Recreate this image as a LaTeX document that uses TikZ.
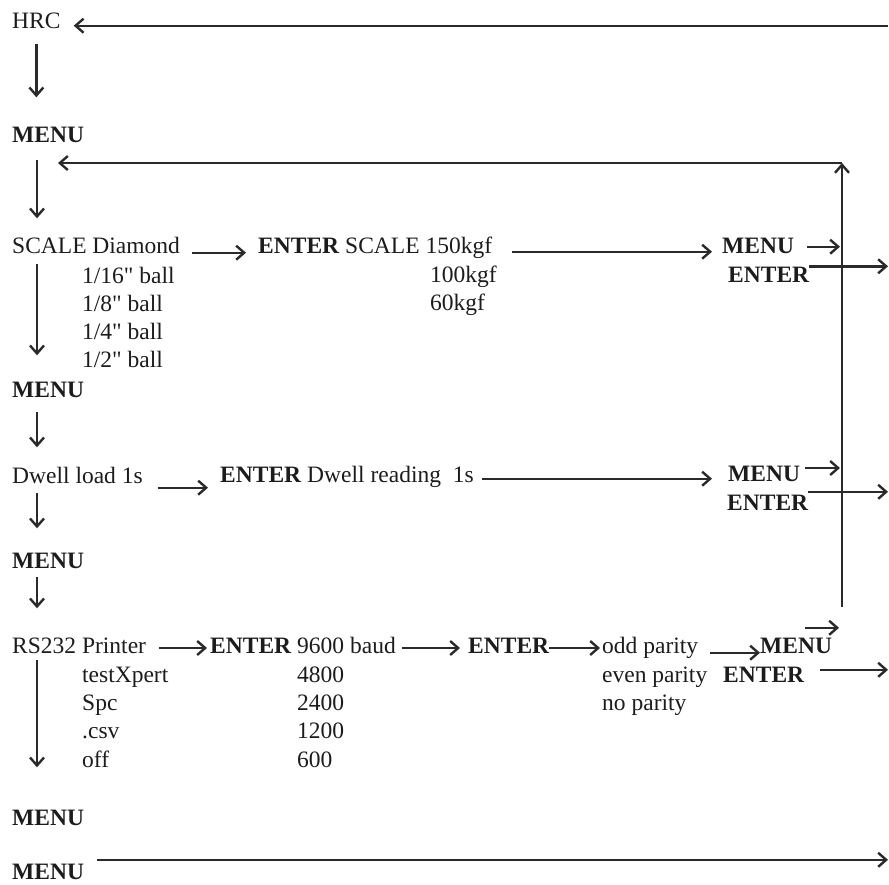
\documentclass[tikz,border=0pt]{standalone}
\usepackage{fontspec}
\setmainfont{Liberation Serif}
\usepackage{tikz}
\usetikzlibrary{arrows.meta,calc}
\definecolor{hkink}{HTML}{1C1C1C}
\definecolor{hkline}{HTML}{2A2A2A}

\begin{document}
\begin{tikzpicture}[x=1pt,y=1pt,
    lbl/.style={anchor=base west,inner sep=0pt,text height=15.5pt,text depth=0pt,
      font=\fontsize{23.5}{28}\selectfont,text=hkink},
    bld/.style={lbl,font=\fontsize{23.5}{28}\selectfont\bfseries},
    arr/.style={draw=hkline,line width=2.4pt,-{Straight Barb[length=8pt,width=14pt]}}]
  \useasboundingbox (0,0) rectangle (889,-884);
  % fixed points: left spine, right edge, return loop
  \coordinate (lft) at (37,0);
  \coordinate (edge) at (888,0);
  \coordinate (spinebot) at (842,-607);
  \coordinate (spinetop) at (842,-163);
  \coordinate (loopend) at (58,-163);

  % left column
  \node[lbl] (hrc) at (12,-28) {HRC};
  \node[bld] (menu1) at (12,-142) {MENU};
  \node[lbl] (scale) at (12,-253) {SCALE Diamond};
  \node[lbl] (ball1) at (82,-283) {1/16\textquotedbl{} ball};
  \node[lbl] (ball2) at (82,-311) {1/8\textquotedbl{} ball};
  \node[lbl] (ball3) at (82,-339) {1/4\textquotedbl{} ball};
  \node[lbl] (ball4) at (82,-367) {1/2\textquotedbl{} ball};
  \node[bld] (menu2) at (12,-397) {MENU};
  \node[lbl] (dwell) at (12,-483) {Dwell load 1s};
  \node[bld] (menu3) at (12,-568) {MENU};
  \node[lbl] (rs) at (12,-653) {RS232 Printer};
  \node[lbl] (rs2) at (82,-682) {testXpert};
  \node[lbl] (rs3) at (82,-710) {Spc};
  \node[lbl] (rs4) at (82,-738) {.csv};
  \node[lbl] (rs5) at (82,-767) {off};
  \node[bld] (menu4) at (12,-825) {MENU};
  \node[bld] (menu5) at (12,-879) {MENU};

  % scale row
  \node[lbl] (scaleent) at (258,-253) {\textbf{ENTER} SCALE 150kgf};
  \node[lbl] (kgf2) at (430,-282) {100kgf};
  \node[lbl] (kgf3) at (430,-310) {60kgf};
  \node[bld] (scalemenu) at (722,-253) {MENU};
  \node[bld] (scaleenter) at (728,-282) {ENTER};

  % dwell row
  \node[lbl] (dwellent) at (220,-482) {\textbf{ENTER} Dwell reading\ \ 1s};
  \node[bld] (dwellmenu) at (728,-481) {MENU};
  \node[bld] (dwellenter) at (727,-510) {ENTER};

  % rs232 row
  \node[lbl] (baud) at (210,-653) {\textbf{ENTER} 9600 baud};
  \node[lbl] (baud2) at (297,-682) {4800};
  \node[lbl] (baud3) at (297,-710) {2400};
  \node[lbl] (baud4) at (297,-738) {1200};
  \node[lbl] (baud5) at (297,-767) {600};
  \node[bld] (rsent) at (468,-653) {ENTER};
  \node[lbl] (parity) at (602,-653) {odd parity};
  \node[lbl] (parity2) at (602,-682) {even parity};
  \node[lbl] (parity3) at (602,-710) {no parity};
  \node[bld] (rsmenu) at (760,-653) {MENU};
  \node[bld] (rsenter) at (723,-682) {ENTER};

  % down the left side
  \draw[arr,shorten <=16pt,shorten >=29pt] (hrc.south) -- (hrc.south |- menu1.north);
  \draw[arr,shorten <=18pt,shorten >=19pt] (lft |- menu1.south) -- (lft |- scale.north);
  \draw[arr,shorten <=11pt,shorten >=26pt] (lft |- scale.south) -- (lft |- menu2.north);
  \draw[arr,shorten <=15pt,shorten >=20pt] (lft |- menu2.south) -- (lft |- dwell.north);
  \draw[arr,shorten <=10pt,shorten >=24pt] (lft |- dwell.south) -- (lft |- menu3.north);
  \draw[arr,shorten <=9pt,shorten >=29pt] (lft |- menu3.south) -- (lft |- rs.north);
  \draw[arr,shorten <=7pt,shorten >=42pt] (lft |- rs.south) -- (lft |- menu4.north);

  % returns
  \draw[arr] (hrc.mid east -| edge) -- ([xshift=13pt]hrc.mid east);
  \draw[arr] (spinebot) -- (spinetop);
  \draw[arr] (spinetop) -- (loopend);

  % scale row arrows
  \draw[arr] ($(scale.mid east)+(12,-2)$) -- ($(scaleent.mid west)+(-12,-2)$);
  \draw[arr] ($(scaleent.mid east)+(20,-1)$) -- ($(scalemenu.mid west)+(-10,-1)$);
  \draw[arr] ($(scalemenu.mid east)+(13,4)$) -- ($(scalemenu.mid east -| spinetop)+(-2,4)$);
  \draw[arr] (scaleenter.north east) -- (scaleenter.north east -| edge);

  % dwell row arrows
  \draw[arr] ($(dwell.mid east)+(15,-7)$) -- ($(dwell.mid east -| dwellent.west)+(-12,-7)$);
  \draw[arr] ($(dwellent.mid east)+(8,1)$) -- ($(dwellent.mid east -| dwellmenu.west)+(-16,1)$);
  \draw[arr] ($(dwellmenu.mid east)+(5,10.7)$) -- ($(dwellmenu.mid east -| spinetop)+(-2,10.7)$);
  \draw[arr] ($(dwellenter.north east)+(0,2.5)$) -- ($(dwellenter.north east -| edge)+(0,2.5)$);

  % rs232 row arrows
  \draw[arr] ($(rs.mid east)+(13,2.7)$) -- ($(baud.mid west)+(-3,2.7)$);
  \draw[arr] ($(baud.mid east)+(6,2.7)$) -- ($(rsent.mid west)+(-8,2.7)$);
  \draw[arr] ($(rsent.mid east)+(0,2.7)$) -- ($(parity.mid west)+(-2,2.7)$);
  \draw[arr] ($(parity.mid east)+(12,-2)$) -- ($(rsmenu.mid west)+(0,-2)$);
  \draw[arr] ($(rsmenu.north east)+(-27,9.5)$) -- ($(rsmenu.north east -| spinetop)+(-3,9.5)$);
  \draw[arr] ($(rsenter.north east)+(16,-3.5)$) -- ($(rsenter.north east -| edge)+(0,-3.5)$);

  % exit
  \draw[arr] ($(menu5.north east)+(13,3.5)$) -- ($(menu5.north east -| edge)+(0,3.5)$);
\end{tikzpicture}
\end{document}
